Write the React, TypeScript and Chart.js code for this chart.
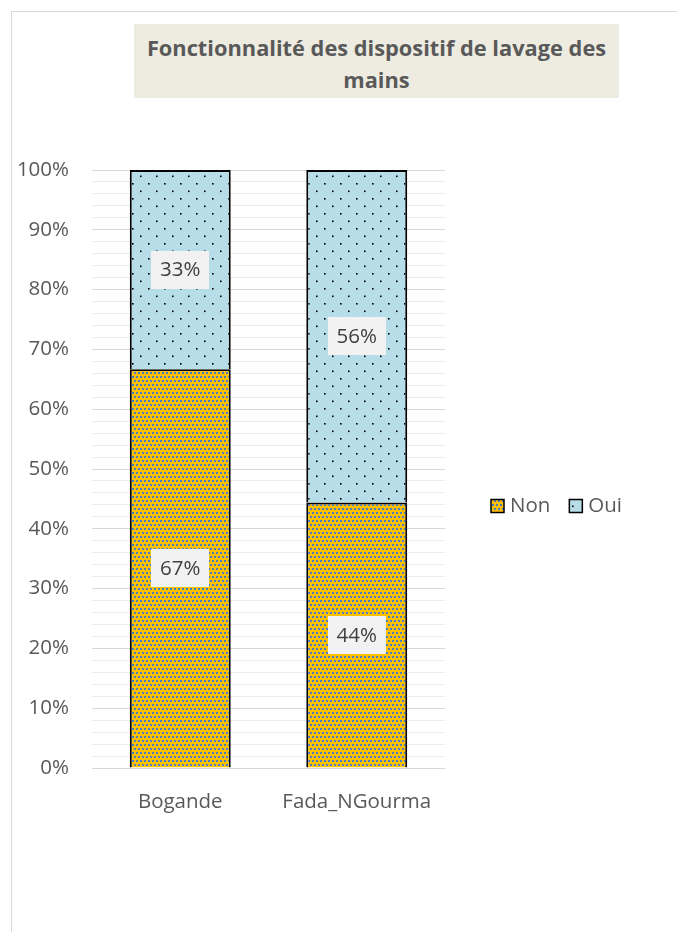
import React, { useEffect, useRef } from "react";
import { Chart, registerables } from "chart.js";

Chart.register(...registerables);

const categories = ["Bogande", "Fada_NGourma"];
const nonValues = [66.7, 44.4];
const ouiValues = [33.3, 55.6];
const seriesLabels = ["Non", "Oui"];
const titleLines = ["Fonctionnalité des dispositif de lavage des", "mains"];

const FONT = "'Open Sans', sans-serif";
const TEXT = "#595959";
const FS = 20.5;

function makeNonPattern(ctx: CanvasRenderingContext2D) {
  const c = document.createElement("canvas");
  c.width = 4;
  c.height = 8;
  const g = c.getContext("2d")!;
  g.fillStyle = "#FFC000";
  g.fillRect(0, 0, 4, 8);
  g.fillStyle = "#4A7EBB";
  g.fillRect(0, 0, 2, 2);
  g.fillRect(2, 4, 2, 2);
  return ctx.createPattern(c, "repeat")!;
}

function makeOuiPattern(ctx: CanvasRenderingContext2D) {
  const c = document.createElement("canvas");
  c.width = 16;
  c.height = 15;
  const g = c.getContext("2d")!;
  g.fillStyle = "#B7DEE8";
  g.fillRect(0, 0, 16, 15);
  g.fillStyle = "#000000";
  g.fillRect(4, 3, 1.6, 1.6);
  g.fillRect(12, 10.5, 1.6, 1.6);
  return ctx.createPattern(c, "repeat")!;
}

const labelPlugin = {
  id: "segLabels",
  afterDatasetsDraw(chart: any) {
    const ctx = chart.ctx;
    ctx.save();
    ctx.font = `${FS}px ${FONT}`;
    ctx.textAlign = "center";
    ctx.textBaseline = "middle";
    chart.data.datasets.forEach((ds: any, i: number) => {
      const meta = chart.getDatasetMeta(i);
      meta.data.forEach((bar: any, j: number) => {
        const v = ds.data[j];
        const cy = (bar.y + bar.base) / 2;
        const w = 58;
        const h = 38;
        ctx.fillStyle = "#F2F2F2";
        ctx.fillRect(Math.round(bar.x - w / 2), Math.round(cy - h / 2), w, h);
        ctx.fillStyle = "#404040";
        ctx.fillText(Math.round(v) + "%", bar.x, cy + 1);
      });
    });
    ctx.restore();
  },
};

const legendPlugin = {
  id: "customLegend",
  afterDraw(chart: any) {
    const ctx = chart.ctx;
    ctx.save();
    ctx.font = `${FS}px ${FONT}`;
    ctx.textBaseline = "middle";
    ctx.textAlign = "left";
    let x = 491;
    const cy = 506;
    chart.data.datasets.forEach((ds: any, i: number) => {
      const s = 13;
      ctx.fillStyle = ds.backgroundColor;
      ctx.fillRect(x, cy - s / 2, s, s);
      ctx.strokeStyle = "#000";
      ctx.lineWidth = 1.5;
      ctx.strokeRect(x, cy - s / 2, s, s);
      ctx.fillStyle = TEXT;
      ctx.fillText(ds.label, x + s + 6, cy);
      const tw = ctx.measureText(ds.label).width;
      x += s + 6 + tw + 19;
    });
    ctx.restore();
  },
};

export default function App() {
  const ref = useRef<HTMLCanvasElement>(null);
  useEffect(() => {
    const canvas = ref.current!;
    const ctx = canvas.getContext("2d")!;
    const nonPat = makeNonPattern(ctx);
    const ouiPat = makeOuiPattern(ctx);
    const chart = new Chart(canvas, {
      type: "bar",
      data: {
        labels: categories,
        datasets: [
          {
            label: seriesLabels[0],
            data: nonValues,
            backgroundColor: nonPat as any,
            borderColor: "#000000",
            borderWidth: 2,
            categoryPercentage: 1,
            barPercentage: 0.572,
          },
          {
            label: seriesLabels[1],
            data: ouiValues,
            backgroundColor: ouiPat as any,
            borderColor: "#000000",
            borderWidth: 2,
            categoryPercentage: 1,
            barPercentage: 0.572,
          },
        ],
      },
      options: {
        animation: false,
        responsive: false,
        maintainAspectRatio: false,
        layout: { padding: { left: 0, top: 170, right: 232, bottom: 104 } },
        plugins: {
          legend: { display: false },
          title: { display: false },
          tooltip: { enabled: false },
        },
        scales: {
          x: {
            stacked: true,
            grid: { display: false },
            border: { display: false },
            ticks: {
              color: TEXT,
              font: { family: FONT, size: FS },
              padding: 14,
            },
            afterFit: (s: any) => {
              s.height = 60;
            },
          },
          y: {
            stacked: true,
            min: 0,
            max: 100,
            border: { display: false },
            grid: {
              drawTicks: false,
              lineWidth: 1,
              color: (c: any) =>
                c.tick && Math.round(c.tick.value) % 10 === 0 ? "#D9D9D9" : "#EBEBEB",
            },
            ticks: {
              stepSize: 2,
              autoSkip: false,
              padding: 23,
              color: TEXT,
              font: { family: FONT, size: FS },
              callback: (v: any) => (Math.round(v) % 10 === 0 ? v + "%" : ""),
            },
            afterFit: (s: any) => {
              s.width = 92;
            },
          },
        },
      },
      plugins: [labelPlugin, legendPlugin],
    });
    return () => chart.destroy();
  }, []);

  return (
    <div style={{ position: "absolute", left: 0, top: 0, width: 677, height: 932, overflow: "hidden", background: "#fff" }}>
      <div style={{ position: "absolute", left: 11, top: 11, width: 1, height: 921, background: "#D9D9D9" }} />
      <div style={{ position: "absolute", left: 11, top: 11, width: 666, height: 1, background: "#D9D9D9" }} />
      <canvas ref={ref} width={677} height={932} style={{ position: "absolute", left: 0, top: 0 }} />
      <div
        style={{
          position: "absolute",
          left: 134,
          top: 24,
          width: 485,
          height: 74,
          boxSizing: "border-box",
          paddingTop: 5,
          background: "#EEECE1",
          color: TEXT,
          fontFamily: FONT,
          fontWeight: 700,
          fontSize: 21.8,
          lineHeight: "32px",
          textAlign: "center",
          display: "flex",
          flexDirection: "column",
          justifyContent: "center",
        }}
      >
        {titleLines.map((l, i) => (
          <div key={i}>{l}</div>
        ))}
      </div>
    </div>
  );
}
